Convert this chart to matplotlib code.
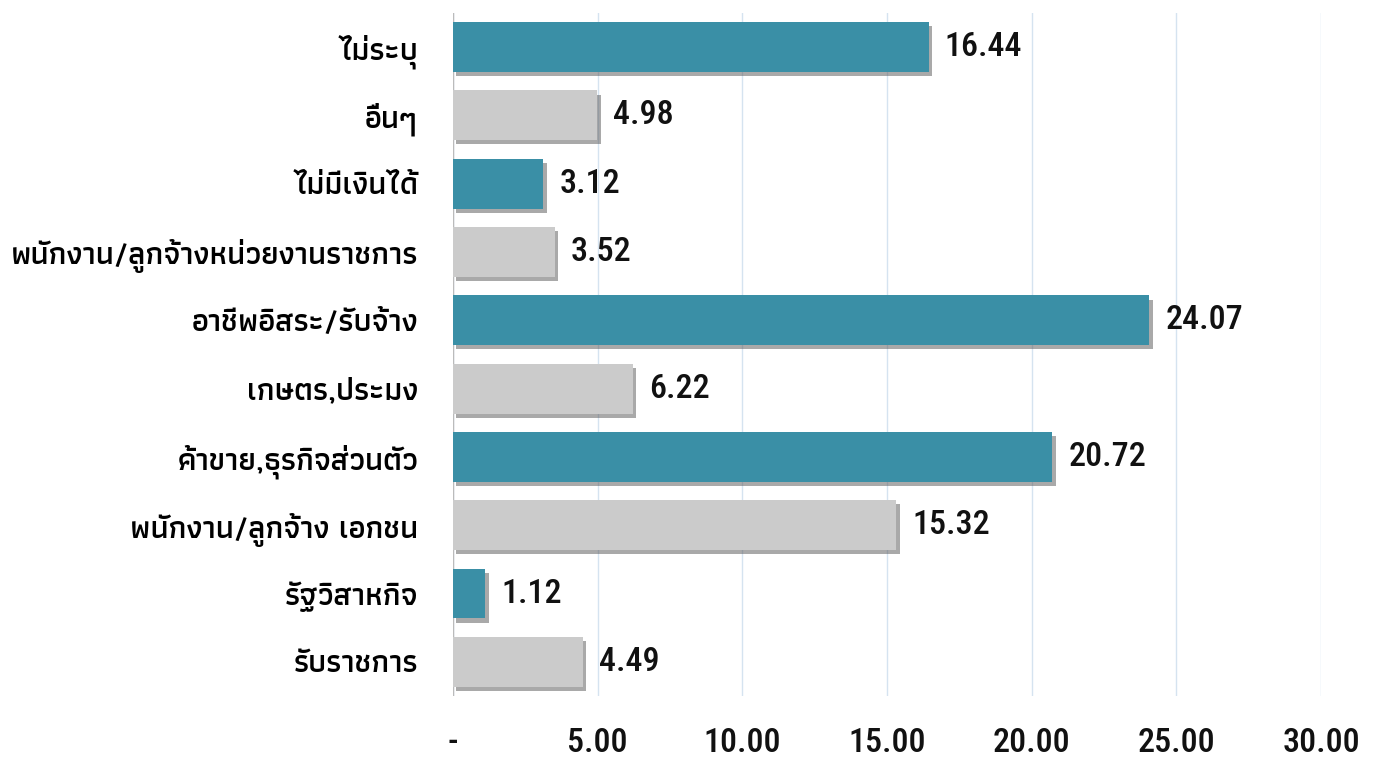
import matplotlib
matplotlib.use("Agg")
import matplotlib.pyplot as plt
from matplotlib import font_manager
from matplotlib.font_manager import FontProperties
import matplotlib.patheffects as pe

categories = ["ไม่ระบุ", "อื่นๆ", "ไม่มีเงินได้", "พนักงาน/ลูกจ้างหน่วยงานราชการ",
              "อาชีพอิสระ/รับจ้าง", "เกษตร,ประมง", "ค้าขาย,ธุรกิจส่วนตัว",
              "พนักงาน/ลูกจ้าง เอกชน", "รัฐวิสาหกิจ", "รับราชการ"]
values = [16.44, 4.98, 3.12, 3.52, 24.07, 6.22, 20.72, 15.32, 1.12, 4.49]
xticks = [0, 5, 10, 15, 20, 25, 30]
xtick_labels = ["-", "5.00", "10.00", "15.00", "20.00", "25.00", "30.00"]

teal = "#3A8FA6"
gray = "#CBCBCB"
colors = [teal if i % 2 == 0 else gray for i in range(len(values))]

ttf = font_manager.fontManager.ttflist
names = {f.name for f in ttf}
thai = [n for n in ["Athiti", "Anuphan", "Kanit"] if n in names] + ["DejaVu Sans"]
plt.rcParams['font.family'] = thai

# pick a condensed font for numbers (prefer medium weight)
cond = None
for pref in ["Roboto Condensed", "Liberation Sans Narrow", "Open Sans Condensed", "DejaVu Sans Condensed"]:
    cands = [f for f in ttf if f.name == pref and f.style == "normal"]
    for w in (500, 400, "medium", "normal", "regular"):
        for f in cands:
            if f.weight == w:
                cond = f.fname
                break
        if cond:
            break
    if cond:
        break

def numprop(size):
    if cond:
        return FontProperties(fname=cond, size=size)
    return FontProperties(family="Liberation Sans", size=size * 0.85)

fig = plt.figure(figsize=(13.74, 7.57), dpi=100)
ax = fig.add_axes([0.3297, 0.0806, 0.6317, 0.9024])

y = list(range(len(values)))
bars = ax.barh(y, values, height=0.73, color=colors, zorder=3)
for b in bars:
    b.set_path_effects([pe.SimplePatchShadow(offset=(2.5, -3), shadow_rgbFace="#555555", alpha=0.5), pe.Normal()])
ax.set_ylim(len(values) - 0.5, -0.5)
ax.set_xlim(0, 30)
ax.set_yticks(y)
ax.set_yticklabels(categories, fontsize=22.5, fontweight='semibold', family=thai)
ax.set_xticks(xticks)
ax.set_xticklabels(xtick_labels, fontproperties=numprop(24.5), color="#111111")
ax.tick_params(axis='x', length=0, pad=22)
ax.tick_params(axis='y', length=0, pad=25)
ax.grid(axis='x', color="#D5E3F0", linewidth=1, zorder=0)
for s in ax.spines.values():
    s.set_visible(False)
ax.axvline(0, color="#BBBBBB", linewidth=1, zorder=2)
for yi, v in zip(y, values):
    ax.text(v + 0.55, yi, f"{v:.2f}", va="center", ha="left",
            fontproperties=numprop(24.5), color="#111111")

fig.savefig("out.png", dpi=100)
